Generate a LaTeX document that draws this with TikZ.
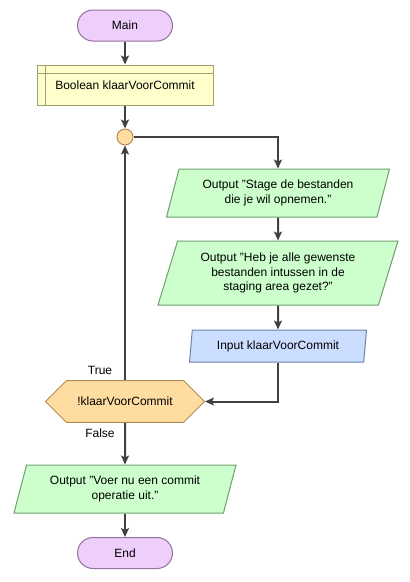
\documentclass[tikz,border=0pt]{standalone}
\usepackage{fontspec}
\setmainfont{Liberation Sans}
\usetikzlibrary{arrows.meta,shapes.geometric,shapes.misc}
\definecolor{termfill}{RGB}{238,206,250}
\definecolor{termdraw}{RGB}{150,112,160}
\definecolor{declfill}{RGB}{255,255,204}
\definecolor{decldraw}{RGB}{160,160,110}
\definecolor{joinfill}{RGB}{255,221,160}
\definecolor{joindraw}{RGB}{176,140,80}
\definecolor{outfill}{RGB}{204,255,204}
\definecolor{outdraw}{RGB}{110,160,110}
\definecolor{infill}{RGB}{204,222,255}
\definecolor{indraw}{RGB}{110,130,170}
\definecolor{flowline}{RGB}{64,64,64}
\tikzset{
  base/.style={draw, line width=1pt, font=\fontsize{12}{14.5}\selectfont, align=center, inner sep=0pt},
  term/.style={base, fill=termfill, draw=termdraw, rectangle, rounded corners=15.5pt, minimum width=95pt, minimum height=31pt},
  decl/.style={base, fill=declfill, draw=decldraw, rectangle, minimum width=176pt, minimum height=40pt,
    path picture={\draw[decldraw, line width=1pt]
      ([xshift=8pt]path picture bounding box.north west) -- ([xshift=8pt]path picture bounding box.south west)
      ([yshift=-8pt]path picture bounding box.north west) -- ([yshift=-8pt]path picture bounding box.north east);}},
  joint/.style={base, fill=joinfill, draw=joindraw, circle, minimum size=16pt},
  io/.style={base, trapezium, trapezium stretches body, trapezium left angle=#1, trapezium right angle=180-#1},
  outbox/.style={io=64, fill=outfill, draw=outdraw},
  inbox/.style={io=76, fill=infill, draw=indraw},
  cond/.style={base, fill=joinfill, draw=joindraw, chamfered rectangle, chamfered rectangle xsep=14pt,
    chamfered rectangle ysep=16.5pt, minimum width=159pt, minimum height=33pt},
  flow/.style={draw=flowline, line width=2pt, -{Stealth[length=9pt,width=8pt,inset=2pt]}},
  lbl/.style={font=\fontsize{12}{14.5}\selectfont}
}
\begin{document}
\begin{tikzpicture}[x=1pt,y=-1pt]
  \useasboundingbox (0,0) rectangle (410,582);
  \node[term] (main) at (125,25.5) {Main};
  \node[decl] (klaar) at (125,85) {\raisebox{-4pt}{Boolean klaarVoorCommit}};
  \node[joint] (join) at (125,137) {};
  \node[outbox, minimum width=223pt, minimum height=48pt] (stage) at (278,193) {Output "Stage de bestanden\\die je wil opnemen."};
  \node[outbox, minimum width=240pt, minimum height=64pt] (vraag) at (278,273) {Output "Heb je alle gewenste\\bestanden intussen in de\\staging area gezet?"};
  \node[inbox, minimum width=177pt, minimum height=32pt] (invoer) at (278,346) {Input klaarVoorCommit};
  \node[cond] (check) at (125,401.5) {!klaarVoorCommit};
  \node[outbox, minimum width=222pt, minimum height=48pt] (commit) at (125,489) {Output "Voer nu een commit\\operatie uit."};
  \node[term] (end) at (125,553) {End};
  \node[lbl] (true) at (100,370) {True};
  \node[lbl] (false) at (100,433) {False};
  \draw[flow] (main) -- (klaar);
  \draw[flow] (klaar) -- (join);
  \draw[flow] (join) -| (stage);
  \draw[flow] (stage) -- (vraag);
  \draw[flow] (vraag) -- (invoer);
  \draw[flow] (invoer) |- (check);
  \draw[flow] (check) -- (join);
  \draw[flow] (check) -- (commit);
  \draw[flow] (commit) -- (end);
\end{tikzpicture}
\end{document}
